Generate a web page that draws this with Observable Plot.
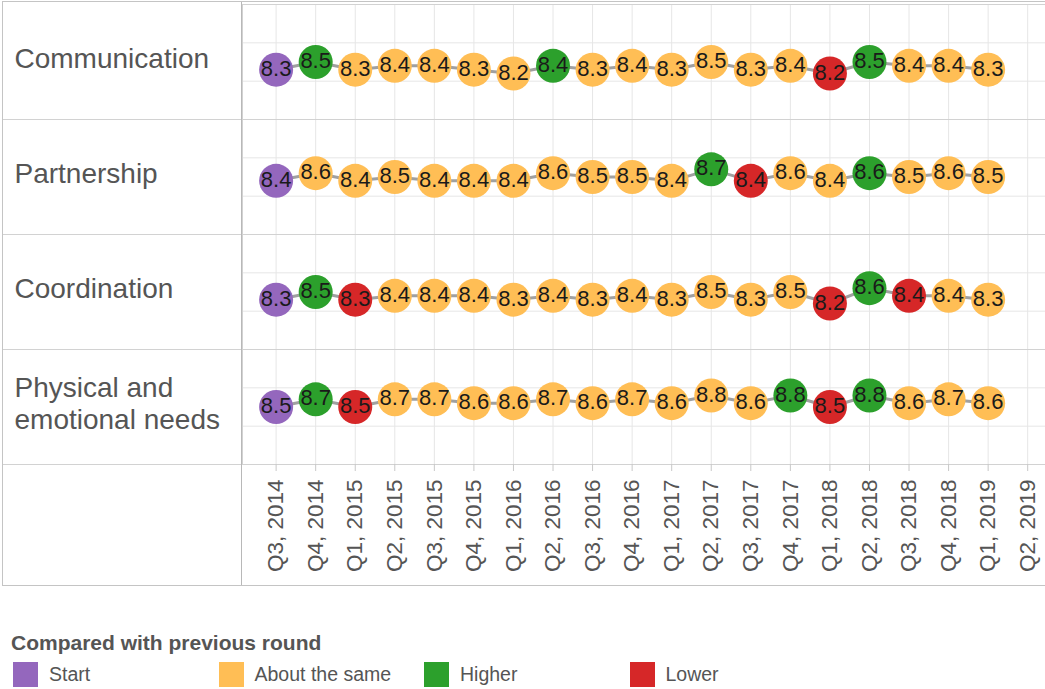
<!DOCTYPE html>
<html>
<head>
<meta charset="utf-8">
<script src="https://cdn.jsdelivr.net/npm/d3@7"></script>
<script src="https://cdn.jsdelivr.net/npm/@observablehq/plot@0.6"></script>
<style>
  html, body { margin: 0; padding: 0; background: #fff; }
  body { width: 1045px; height: 689px; position: relative; overflow: hidden; font-family: "Liberation Sans", Arial, sans-serif; }
  #chart { position: absolute; left: 0; top: 0; }
  #outer { position: absolute; left: 2px; top: 1px; width: 1050px; height: 583px; border: 1px solid #c4c4c4; pointer-events: none; }
  #divider { position: absolute; left: 241px; top: 2px; width: 1px; height: 583px; background: #b8b8b8; pointer-events: none; }
  #legend { position: absolute; left: 11px; top: 631px; color: #555; }
  #legend .title { font-weight: bold; font-size: 21px; line-height: 24px; white-space: nowrap; }
  #legend .items { position: relative; height: 28px; margin-top: 7px; width: 900px; }
  #legend .item { position: absolute; top: 0; display: flex; align-items: center; font-size: 19.5px; white-space: nowrap; }
  #legend .sw { width: 25px; height: 25px; margin-right: 11px; flex: none; }
</style>
</head>
<body>
<div id="chart"></div>
<div id="outer"></div>
<div id="divider"></div>
<div id="legend"></div>
<script>
// ---- Data ----
const quarters = ["Q3, 2014","Q4, 2014","Q1, 2015","Q2, 2015","Q3, 2015","Q4, 2015","Q1, 2016","Q2, 2016","Q3, 2016","Q4, 2016","Q1, 2017","Q2, 2017","Q3, 2017","Q4, 2017","Q1, 2018","Q2, 2018","Q3, 2018","Q4, 2018","Q1, 2019","Q2, 2019"];
const categories = ["Communication","Partnership","Coordination","Physical and emotional needs"];
const rowLabels = ["Communication","Partnership","Coordination","Physical and\nemotional needs"];

const communication = [8.3,8.5,8.3,8.4,8.4,8.3,8.2,8.4,8.3,8.4,8.3,8.5,8.3,8.4,8.2,8.5,8.4,8.4,8.3];
const partnership   = [8.4,8.6,8.4,8.5,8.4,8.4,8.4,8.6,8.5,8.5,8.4,8.7,8.4,8.6,8.4,8.6,8.5,8.6,8.5];
const coordination  = [8.3,8.5,8.3,8.4,8.4,8.4,8.3,8.4,8.3,8.4,8.3,8.5,8.3,8.5,8.2,8.6,8.4,8.4,8.3];
const physicalNeeds = [8.5,8.7,8.5,8.7,8.7,8.6,8.6,8.7,8.6,8.7,8.6,8.8,8.6,8.8,8.5,8.8,8.6,8.7,8.6];

// S = Start, A = About the same, H = Higher, L = Lower
const communicationStatus = ["S","H","A","A","A","A","A","H","A","A","A","A","A","A","L","H","A","A","A"];
const partnershipStatus   = ["S","A","A","A","A","A","A","A","A","A","A","H","L","A","A","H","A","A","A"];
const coordinationStatus  = ["S","H","L","A","A","A","A","A","A","A","A","A","A","A","L","H","L","A","A"];
const physicalNeedsStatus = ["S","H","L","A","A","A","A","A","A","A","A","A","A","H","L","H","A","A","A"];

const statusCodes = ["S","A","H","L"];
const statusNames = ["Start","About the same","Higher","Lower"];
const statusColors = ["#9467bd","#ffbe55","#2ca02c","#d62728"];

// ---- Build table ----
const seriesValues = [communication, partnership, coordination, physicalNeeds];
const seriesStatus = [communicationStatus, partnershipStatus, coordinationStatus, physicalNeedsStatus];
const data = [];
categories.forEach((cat, c) => {
  seriesValues[c].forEach((v, i) => {
    data.push({cat, i, value: v, status: statusNames[statusCodes.indexOf(seriesStatus[c][i])]});
  });
});
const tickIdx = quarters.map((q, i) => i);

const chart = Plot.plot({
  width: 1045,
  height: 587,
  marginLeft: 242,
  marginRight: 0,
  marginTop: 2,
  marginBottom: 122,
  style: {fontFamily: '"Liberation Sans", Arial, sans-serif', background: "#fff", color: "#555", overflow: "visible"},
  x: {type: "linear", domain: [-0.85, 19.45], axis: null, label: null},
  y: {domain: [7, 10], axis: null},
  fy: {domain: categories, axis: null, padding: 0},
  color: {domain: statusNames, range: statusColors},
  marks: [
    Plot.gridX(tickIdx, {stroke: "#e6e6e6", strokeOpacity: 1}),
    Plot.gridY([8, 9], {stroke: "#e6e6e6", strokeOpacity: 1}),
    Plot.frame({stroke: "#d2d2d2"}),
    Plot.ruleY([7], {stroke: "#d2d2d2", dx: -239}),
    Plot.text(categories, {
      fy: d => d,
      text: d => rowLabels[categories.indexOf(d)],
      frameAnchor: "left", textAnchor: "start", dx: -228, dy: -4,
      fontSize: 28, fill: "#555", lineHeight: 1.12, lineAnchor: "middle"
    }),
    Plot.axisX(tickIdx, {
      tickFormat: i => quarters[i],
      tickRotate: -90,
      tickSize: 7,
      tickPadding: 8,
      fontSize: 22.5,
      stroke: "#c8c8c8",
      fill: "#555",
      label: null
    }),
    Plot.line(data, {x: "i", y: "value", fy: "cat", stroke: "#a0a0a0", strokeWidth: 3}),
    Plot.dot(data, {x: "i", y: "value", fy: "cat", r: 17, fill: "status", stroke: "none"}),
    Plot.text(data, {x: "i", y: "value", fy: "cat", text: d => d.value.toFixed(1), fontSize: 22, fill: "#1a1a1a", dy: -1})
  ]
});
document.getElementById("chart").appendChild(chart);

// ---- Legend ----
const legend = d3.select("#legend");
legend.append("div").attr("class", "title").text("Compared with previous round");
const items = legend.append("div").attr("class", "items");
statusNames.forEach((name, k) => {
  const it = items.append("div").attr("class", "item").style("left", (2 + k * 205.5) + "px");
  it.append("div").attr("class", "sw").style("background", statusColors[k]);
  it.append("span").text(name);
});
</script>
</body>
</html>
